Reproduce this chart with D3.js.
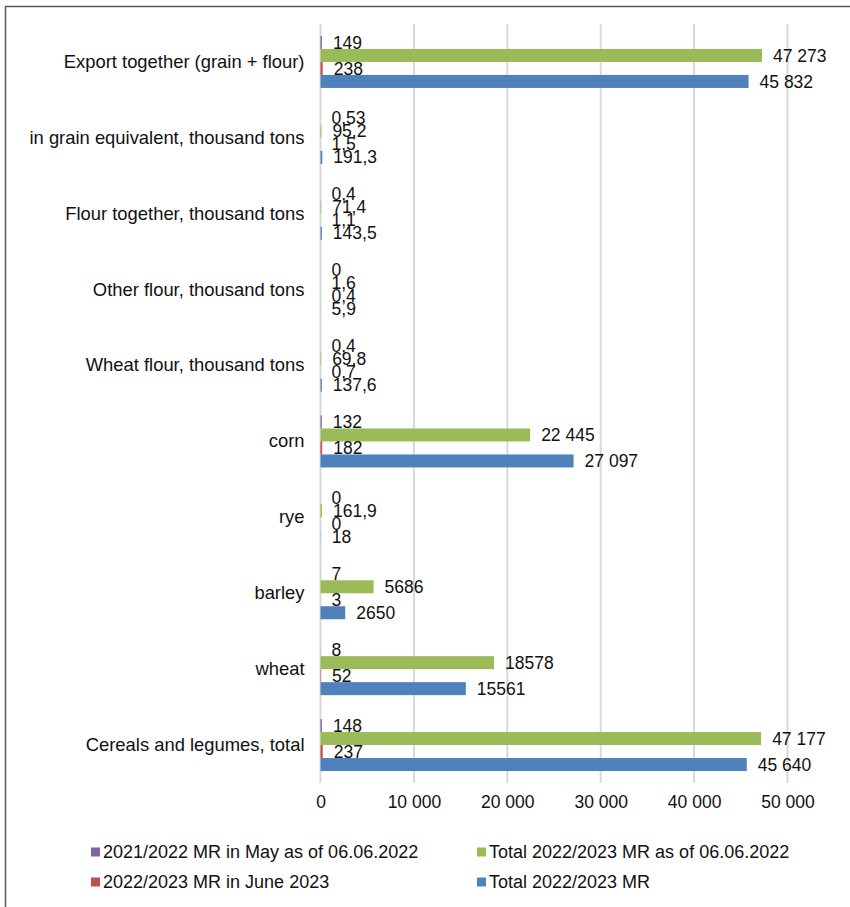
<!DOCTYPE html>
<html>
<head>
<meta charset="utf-8">
<script src="https://cdn.jsdelivr.net/npm/d3@7/dist/d3.min.js"></script>
<style>
  html, body { margin: 0; padding: 0; background: #fff; }
  svg { display: block; font-family: "Liberation Sans", Arial, sans-serif; }
</style>
</head>
<body>
<script>
// Grain and flour exports, thousand tons
const categories = [
  "Export together (grain + flour)",
  "in grain equivalent, thousand tons",
  "Flour together, thousand tons",
  "Other flour, thousand tons",
  "Wheat flour, thousand tons",
  "corn",
  "rye",
  "barley",
  "wheat",
  "Cereals and legumes, total"
];

// Whether a category's labels use a thousands separator
const groupedThousands = [true, false, false, false, false, true, false, false, false, true];

const seriesNames = [
  "2021/2022 MR in May as of 06.06.2022",
  "Total 2022/2023 MR as of 06.06.2022",
  "2022/2023 MR in June 2023",
  "Total 2022/2023 MR"
];
const seriesColors = ["#8064A2", "#9BBB59", "#C0504D", "#4F81BD"];

const mayValues      = [149, 0.53, 0.4, 0, 0.4, 132, 0, 7, 8, 148];
const totalAsOfJune  = [47273, 95.2, 71.4, 1.6, 69.8, 22445, 161.9, 5686, 18578, 47177];
const juneValues     = [238, 1.5, 1.1, 0.4, 0.7, 182, 0, 3, 52, 237];
const totalValues    = [45832, 191.3, 143.5, 5.9, 137.6, 27097, 18, 2650, 15561, 45640];

const xTicks = [0, 10000, 20000, 30000, 40000, 50000];

const seriesValues = [mayValues, totalAsOfJune, juneValues, totalValues];

const W = 850, H = 907;
const svg = d3.select("body").append("svg").attr("width", W).attr("height", H);

// outer frame
svg.append("rect")
  .attr("x", 5.5).attr("y", 6.5).attr("width", 1000).attr("height", 1000)
  .attr("fill", "none").attr("stroke", "#5a5a5a").attr("stroke-width", 1.5);

const plot = { left: 320.5, right: 787.5, top: 24, bottom: 783 };

const x = d3.scaleLinear().domain([0, 50000]).range([plot.left, plot.right]);
const y0 = d3.scaleBand().domain(categories).range([plot.top, plot.bottom]).padding(0);
const y1 = d3.scaleBand().domain(d3.range(seriesNames.length))
  .range([0, y0.bandwidth()]).paddingInner(0).paddingOuter(0.92);

const locale = d3.formatLocale({ decimal: ",", thousands: " ", grouping: [3], currency: ["", ""] });
const fmtGrouped = locale.format(",");
const fmtPlain = locale.format("");

// gridlines
svg.append("g").selectAll("line").data(xTicks).join("line")
  .attr("x1", d => x(d)).attr("x2", d => x(d))
  .attr("y1", plot.top).attr("y2", plot.bottom)
  .attr("stroke", "#d9d9d9").attr("stroke-width", 2);

// x axis tick labels
const xAxis = d3.axisBottom(x).tickValues(xTicks).tickSize(0).tickPadding(0)
  .tickFormat(d => fmtGrouped(d));
const gx = svg.append("g").attr("transform", `translate(0, ${plot.bottom + 13})`).call(xAxis);
gx.select(".domain").remove();
gx.selectAll("text").attr("font-size", 17.5).attr("fill", "#111")
  .attr("font-family", "'Liberation Sans', Arial, sans-serif");

// category labels
const yAxis = d3.axisLeft(y0).tickSize(0).tickPadding(0);
const gy = svg.append("g").attr("transform", `translate(${plot.left - 16}, 0)`).call(yAxis);
gy.select(".domain").remove();
gy.selectAll("text").attr("font-size", 18.4).attr("fill", "#111")
  .attr("font-family", "'Liberation Sans', Arial, sans-serif");

// flat records for bars and labels
const records = [];
categories.forEach((c, ci) => {
  seriesValues.forEach((vals, si) => {
    records.push({ cat: c, ci, si, value: vals[ci] });
  });
});

svg.append("g").selectAll("rect").data(records).join("rect")
  .attr("x", x(0))
  .attr("y", d => y0(d.cat) + y1(d.si))
  .attr("width", d => Math.max(0, x(d.value) - x(0)))
  .attr("height", y1.bandwidth())
  .attr("fill", d => seriesColors[d.si]);

svg.append("g").selectAll("text").data(records).join("text")
  .attr("x", d => x(d.value) + 11)
  .attr("y", d => y0(d.cat) + y1(d.si) + y1.bandwidth() / 2)
  .attr("dy", "0.35em")
  .attr("font-size", 17.5)
  .attr("fill", "#111")
  .text(d => groupedThousands[d.ci] ? fmtGrouped(d.value) : fmtPlain(d.value));

// legend
const legendItems = [
  { si: 0, x: 91, y: 852 },
  { si: 1, x: 477, y: 852 },
  { si: 2, x: 91, y: 882 },
  { si: 3, x: 477, y: 882 }
];
const lg = svg.append("g").selectAll("g").data(legendItems).join("g")
  .attr("transform", d => `translate(${d.x}, ${d.y})`);
lg.append("rect").attr("x", 0).attr("y", -4.5).attr("width", 9).attr("height", 9)
  .attr("fill", d => seriesColors[d.si]);
lg.append("text").attr("x", 12).attr("y", 0).attr("dy", "0.35em")
  .attr("font-size", 18).attr("fill", "#111")
  .text(d => seriesNames[d.si]);
</script>
</body>
</html>
